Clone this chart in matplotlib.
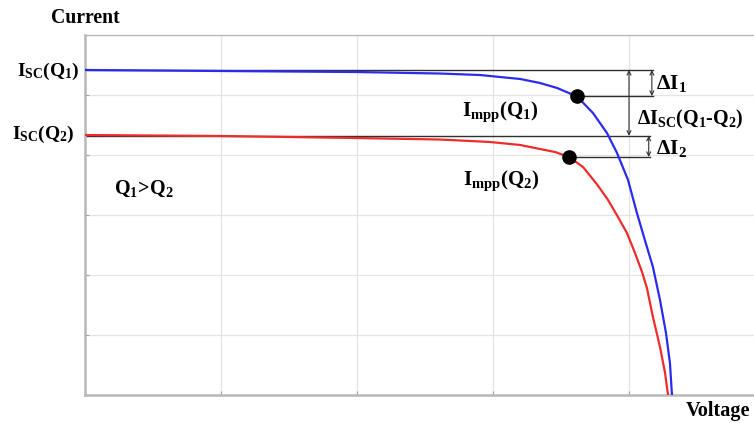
import matplotlib
matplotlib.use("Agg")
import matplotlib.pyplot as plt

# ---- data (arbitrary units) ----
blue_v = [0.0, 0.993, 2.0, 2.610, 2.904, 3.199, 3.346, 3.471, 3.618, 3.735, 3.838,
          3.912, 3.993, 4.055, 4.110, 4.176, 4.228, 4.272, 4.301, 4.316]
blue_i = [5.417, 5.400, 5.383, 5.358, 5.333, 5.267, 5.200, 5.117, 4.975, 4.700, 4.367,
          4.033, 3.583, 3.060, 2.633, 2.133, 1.583, 1.033, 0.533, 0.0]
red_v = [0.0, 0.993, 2.0, 2.610, 2.978, 3.199, 3.346, 3.456, 3.559, 3.662, 3.765,
         3.846, 3.919, 3.985, 4.044, 4.096, 4.132, 4.176, 4.228, 4.265, 4.287]
red_i = [4.333, 4.317, 4.283, 4.258, 4.217, 4.167, 4.100, 4.050, 3.967, 3.800, 3.510,
         3.250, 2.967, 2.700, 2.367, 2.050, 1.780, 1.300, 0.800, 0.367, 0.0]
mpp_v = [3.618, 3.559]
mpp_i = [4.983, 3.967]
isc_levels = [5.417, 4.32]
line_end = [4.18, 4.155]
dI_x = [4.168, 4.145]
dIsc_x = 4.0

plt.rcParams['mathtext.fontset'] = 'custom'
plt.rcParams['mathtext.rm'] = 'Liberation Serif:bold'
plt.rcParams['mathtext.it'] = 'Liberation Serif:bold'
plt.rcParams['mathtext.bf'] = 'Liberation Serif:bold'
plt.rcParams['font.family'] = ['Liberation Serif', 'DejaVu Serif']
plt.rcParams['font.weight'] = 'bold'

W, H = 754, 423
fig = plt.figure(figsize=(W / 100, H / 100), dpi=100)
ax = fig.add_axes([85 / W, 28 / H, 680 / W, 360 / H])
ax.set_xlim(0, 5)
ax.set_ylim(0, 6)

grid_c = '#e4e4e4'
for x in [1, 2, 3, 4]:
    ax.axvline(x, color=grid_c, lw=0.9, zorder=0)
for y in [1, 2, 3, 4, 5]:
    ax.axhline(y, color=grid_c, lw=0.9, zorder=0)

for s in ['left', 'bottom', 'top']:
    ax.spines[s].set_color('#b8b8b8')
ax.spines['left'].set_linewidth(1.8)
ax.spines['bottom'].set_linewidth(1.8)
ax.spines['top'].set_linewidth(1.0)
ax.spines['right'].set_visible(False)
ax.set_xticks([1, 2, 3, 4])
ax.set_yticks([1, 2, 3, 4, 5])
ax.set_xticklabels([])
ax.set_yticklabels([])
ax.tick_params(direction='in', length=3, color='#a0a0a0', width=0.8)

# reference black lines
for lvl, xe in zip(isc_levels, line_end):
    ax.plot([0, xe], [lvl, lvl], color='#303030', lw=1.0, zorder=2)
for mv, mi, xe in zip(mpp_v, mpp_i, line_end):
    ax.plot([mv, xe], [mi, mi], color='#303030', lw=1.0, zorder=2)

ax.plot(blue_v, blue_i, color='#2b2bf0', lw=1.6, zorder=3, solid_joinstyle='round')
ax.plot(red_v, red_i, color='#f02b2b', lw=1.6, zorder=3, solid_joinstyle='round')
ax.plot(mpp_v, mpp_i, 'o', color='black', ms=9.5, zorder=4)

arrow = dict(arrowstyle='<->', color='#303030', lw=0.8, mutation_scale=7,
             shrinkA=0, shrinkB=0)
ax.annotate('', xy=(dI_x[0], isc_levels[0]), xytext=(dI_x[0], mpp_i[0]), arrowprops=arrow)
ax.annotate('', xy=(dI_x[1], isc_levels[1]), xytext=(dI_x[1], mpp_i[1]), arrowprops=arrow)
ax.annotate('', xy=(dIsc_x, isc_levels[0]), xytext=(dIsc_x, isc_levels[1]), arrowprops=arrow)

def px(x, y):
    return x / W, 1 - y / H

fig.text(*px(85, 18), 'Current', ha='center', va='center', fontsize=14.2, fontweight='bold')
fig.text(*px(718, 411), 'Voltage', ha='center', va='center', fontsize=14.6, fontweight='bold')
fig.text(*px(79, 71), r'$\mathrm{I_{SC}(Q_1)}$', ha='right', va='center', fontsize=14)
fig.text(*px(74, 134), r'$\mathrm{I_{SC}(Q_2)}$', ha='right', va='center', fontsize=14)
fig.text(*px(114, 189), r'$\mathrm{Q_1\!>\!Q_2}$', ha='left', va='center', fontsize=14.5)
fig.text(*px(462, 112), r'$\mathrm{I_{mpp}(Q_1)}$', ha='left', va='center', fontsize=15)
fig.text(*px(463, 181), r'$\mathrm{I_{mpp}(Q_2)}$', ha='left', va='center', fontsize=15)
fig.text(*px(656, 83), r'$\mathrm{\Delta I_1}$', ha='left', va='center', fontsize=15.5)
fig.text(*px(637, 119), r'$\mathrm{\Delta I_{SC}(Q_1\text{-}Q_2)}$', ha='left', va='center', fontsize=14.4)
fig.text(*px(656, 148), r'$\mathrm{\Delta I_2}$', ha='left', va='center', fontsize=15.5)

fig.savefig('out.png', dpi=100)
